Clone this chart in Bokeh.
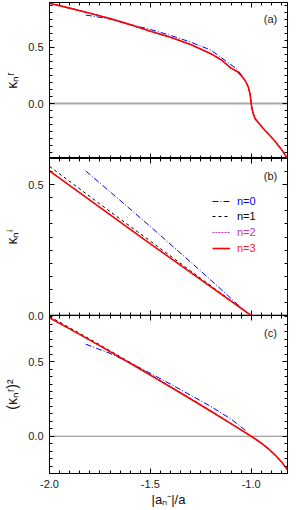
from bokeh.plotting import figure
from bokeh.models import (Range1d, LinearAxis, SingleIntervalTicker, PrintfTickFormatter,
                          CustomJSTickFormatter, Span, Label, Legend, LegendItem)
from bokeh.layouts import column
from bokeh.embed import file_html
from bokeh.resources import INLINE

# ---------------- data ----------------
x_limits = (-2.0, -0.82)

# panel (a): kappa_n^r
a_n3_x = [-2.0, -1.9, -1.8, -1.7, -1.6, -1.5, -1.4, -1.3, -1.2, -1.15, -1.1, -1.07, -1.05,
          -1.03, -1.015, -1.005, -1.0, -0.997, -0.99, -0.98, -0.96, -0.94, -0.91, -0.88, -0.85, -0.82]
a_n3_y = [0.893, 0.850, 0.805, 0.757, 0.703, 0.643, 0.590, 0.525, 0.444, 0.390, 0.315, 0.285, 0.250,
          0.205, 0.150, 0.080, 0.0, -0.04, -0.09, -0.137, -0.180, -0.222, -0.280, -0.340, -0.410, -0.490]
a_n2_x = a_n3_x
a_n2_y = a_n3_y
a_n1_x = a_n3_x
a_n1_y = a_n3_y
a_n0_x = [-1.82, -1.75, -1.7, -1.62, -1.5, -1.4, -1.3, -1.2, -1.1, -1.07, -1.04]
a_n0_y = [0.788, 0.768, 0.752, 0.712, 0.660, 0.607, 0.547, 0.476, 0.345, 0.305, 0.235]

# panel (b): kappa_n^i
b_n3_x = [-2.0, -1.75, -1.5, -1.25, -1.0]
b_n3_y = [0.553, 0.413, 0.274, 0.137, 0.0]
b_n2_x = b_n3_x
b_n2_y = b_n3_y
b_n1_x = [-2.0, -1.75, -1.5, -1.25, -1.0]
b_n1_y = [0.570, 0.426, 0.284, 0.142, 0.0]
b_n0_x = [-1.82, -1.65, -1.5, -1.25, -1.05]
b_n0_y = [0.552, 0.440, 0.340, 0.170, 0.030]

# panel (c): (kappa_n^r)^2
c_n3_x = [-2.0, -1.9, -1.8, -1.7, -1.6, -1.5, -1.4, -1.3, -1.2, -1.1, -1.0,
          -0.97, -0.94, -0.91, -0.88, -0.85, -0.82]
c_n3_y = [0.795, 0.720, 0.645, 0.568, 0.490, 0.410, 0.330, 0.250, 0.168, 0.085, 0.0,
          -0.027, -0.056, -0.090, -0.128, -0.172, -0.225]
c_n2_x = c_n3_x
c_n2_y = c_n3_y
c_n1_x = [-2.0, -1.8, -1.6, -1.4, -1.2, -1.0, -0.97, -0.94, -0.91, -0.88, -0.85, -0.82]
c_n1_y = [0.803, 0.652, 0.495, 0.333, 0.169, 0.0, -0.027, -0.056, -0.090, -0.128, -0.172, -0.225]
c_n0_x = [-1.82, -1.7, -1.6, -1.5, -1.4, -1.3, -1.2, -1.1, -1.02]
c_n0_y = [0.617, 0.556, 0.492, 0.422, 0.350, 0.275, 0.200, 0.115, 0.031]

series_names = ["n=0", "n=1", "n=2", "n=3"]
panel_tags = ["(a)", "(b)", "(c)"]
y_labels = ["κₙʳ", "κₙⁱ", "(κₙʳ)²"]
x_label = "|aₙ⁻|/a"

# ---------------- styles ----------------
line_colors = ["#0000ff", "#000000", "#cc33cc", "#ff0000"]
text_colors = ["#0000ff", "#000000", "#bb33bb", "#ff1a1a"]
line_dashes = ["6 2 1 2", "3 3", "2 1", "solid"]
line_widths = [1, 1, 1, 1.6]
FONT = "Liberation Sans"

shared_x = Range1d(*x_limits)
W = 297
BL = 49
BR = 10


def style_axis(ax, show_labels):
    ax.axis_line_color = "black"
    ax.major_tick_line_color = "black"
    ax.minor_tick_line_color = "black"
    ax.major_tick_in = 5
    ax.major_tick_out = 0
    ax.minor_tick_in = 3
    ax.minor_tick_out = 0
    ax.major_label_text_font = FONT
    ax.axis_label_text_font = FONT
    ax.axis_label_text_font_style = "normal"
    ax.axis_label_text_color = "#111111"
    if show_labels:
        ax.major_label_text_font_size = "11px"
        ax.major_label_text_color = "#222222"
        ax.major_label_standoff = 6
    else:
        ax.formatter = CustomJSTickFormatter(code="return '';")
        ax.major_label_text_font_size = "0px"
        ax.major_label_standoff = 0


def make_panel(idx, yr, minor, xs, ys, fh, bt, bb, show_x, tag_top):
    h = bt + fh + bb
    p = figure(width=W, height=h, x_range=shared_x, y_range=Range1d(*yr),
               output_backend="svg", toolbar_location=None,
               x_axis_location=None, y_axis_location=None,
               min_border_left=BL, min_border_right=BR,
               min_border_top=bt, min_border_bottom=bb)
    p.xgrid.visible = False
    p.ygrid.visible = False
    p.outline_line_color = "black"
    p.outline_line_width = 1
    p.background_fill_color = "white"

    for loc in ("below", "above"):
        ax = LinearAxis(ticker=SingleIntervalTicker(interval=0.5, num_minor_ticks=10),
                        formatter=PrintfTickFormatter(format="%.1f"))
        show = show_x and loc == "below"
        style_axis(ax, show)
        if show:
            ax.axis_label = x_label
            ax.axis_label_text_font_size = "13px"
            ax.axis_label_standoff = 1
        p.add_layout(ax, loc)
    for loc in ("left", "right"):
        ax = LinearAxis(ticker=SingleIntervalTicker(interval=0.5, num_minor_ticks=minor),
                        formatter=PrintfTickFormatter(format="%.1f"))
        show = loc == "left"
        style_axis(ax, show)
        if show:
            ax.axis_label = y_labels[idx]
            ax.axis_label_text_font_size = "14px"
            ax.axis_label_standoff = 5
            ax.major_label_standoff = 6
        p.add_layout(ax, loc)

    zero_styles = [("#aaaaaa", 2), ("#999999", 2.5), ("#888888", 1)]
    zc, zw = zero_styles[idx]
    p.add_layout(Span(location=0, dimension="width", line_color=zc, line_width=zw,
                      level="underlay"))

    renderers = []
    for k in range(4):
        r = p.line(xs[k], ys[k], line_color=line_colors[k], line_dash=line_dashes[k],
                   line_width=line_widths[k])
        renderers.append(r)

    p.add_layout(Label(x=221, y=fh - tag_top, x_units="screen", y_units="screen",
                       text=panel_tags[idx], text_font=FONT, text_font_size="11px",
                       text_color="#222222", text_align="center", text_baseline="middle"))
    return p, renderers


FH_A, FH_B, FH_C = 156, 157, 158

pa, ra = make_panel(0, (-0.49, 0.9), 8,
                    [a_n0_x, a_n1_x, a_n2_x, a_n3_x], [a_n0_y, a_n1_y, a_n2_y, a_n3_y],
                    FH_A, 2, 0, False, 16)
pb, rb = make_panel(1, (0.0, 0.6), 10,
                    [b_n0_x, b_n1_x, b_n2_x, b_n3_x], [b_n0_y, b_n1_y, b_n2_y, b_n3_y],
                    FH_B, 0, 7, False, 17.5)
pc, rc = make_panel(2, (-0.25, 0.81), 10,
                    [c_n0_x, c_n1_x, c_n2_x, c_n3_x], [c_n0_y, c_n1_y, c_n2_y, c_n3_y],
                    FH_C, 7, 37, True, 17)

# legend in panel (b): one legend per entry so each label gets its own colour
row_centers = [42.5, 58.2, 73.8, 90.2]
for k in range(4):
    lg = Legend(items=[LegendItem(label=series_names[k], renderers=[rb[k]])],
                location=(163, FH_B - row_centers[k] - 7),
                glyph_width=18, glyph_height=14, label_height=14, label_standoff=7,
                padding=0, margin=0, spacing=0,
                border_line_color=None, background_fill_alpha=0,
                label_text_font=FONT, label_text_font_size="11px",
                label_text_color=text_colors[k])
    pb.add_layout(lg)

# let (b)'s bottom tick label show through (c)'s transparent top border
pc.border_fill_alpha = 0
pc.styles = {"margin-top": "-14px"}

layout = column(pa, pb, pc, spacing=0)
open("out.html", "w").write(file_html(layout, INLINE))
